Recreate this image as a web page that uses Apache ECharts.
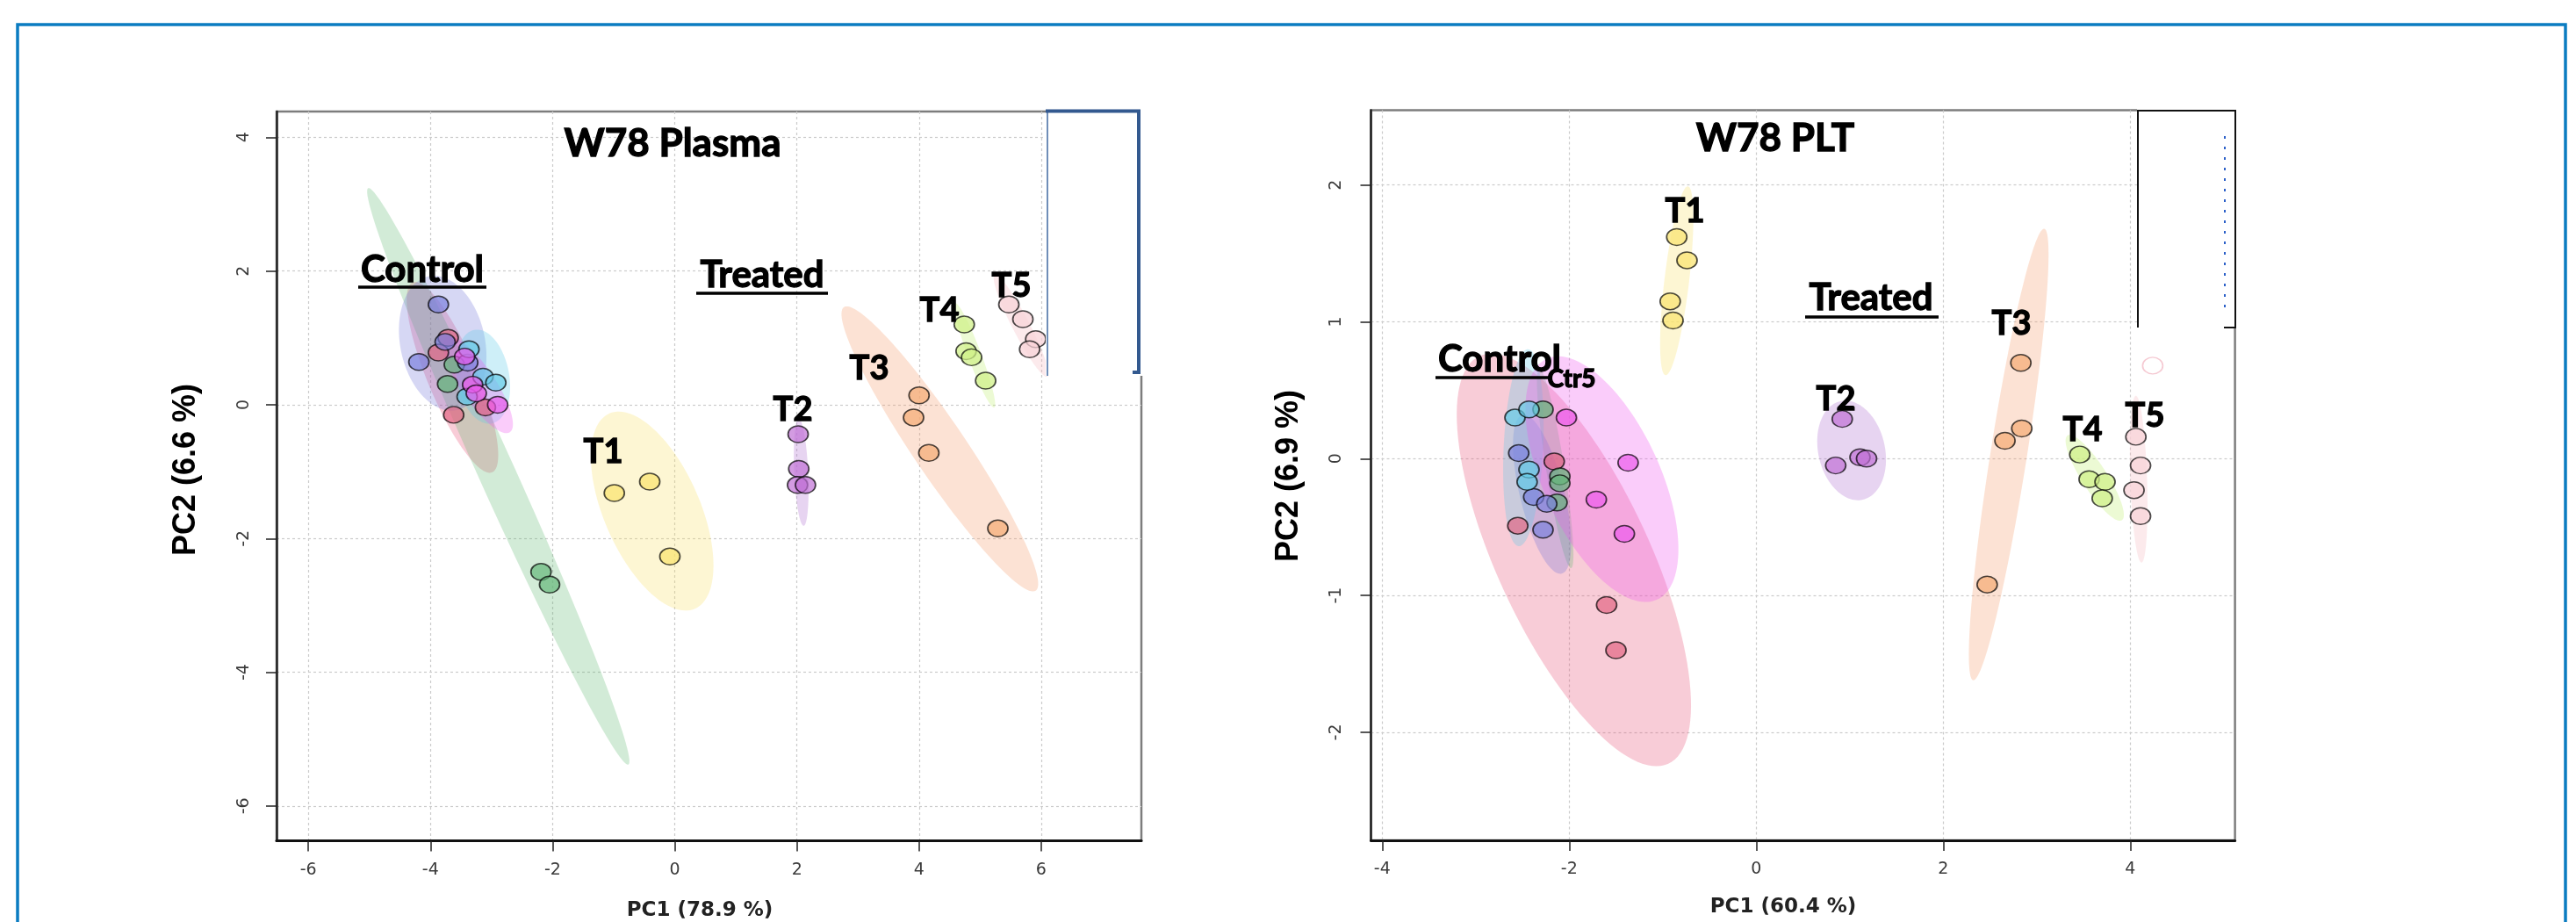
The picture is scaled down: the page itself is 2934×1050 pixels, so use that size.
<!DOCTYPE html>
<html><head><meta charset="utf-8">
<script src="https://cdn.jsdelivr.net/npm/echarts@6/dist/echarts.min.js"></script>
<style>html,body{margin:0;padding:0;background:#fff;}#c{width:2934px;height:1050px;}</style>
</head><body><div id="c"></div>
<script>
// ---------- group order ----------
const groupNames = ['CtrRed','CtrGreen','CtrBlue','CtrCyan','Ctr5','T1','T2','T3','T4','T5'];

// ---------- W78 Plasma scores [PC1, PC2] ----------
const plasmaCtrRed     = [[-3.71,1.00],[-3.87,0.78],[-3.10,-0.04],[-3.62,-0.15]];
const plasmaCtrGreen   = [[-3.61,0.60],[-3.72,0.31],[-2.19,-2.50],[-2.05,-2.69]];
const plasmaCtrBlue    = [[-3.87,1.50],[-3.76,0.94],[-4.19,0.64],[-3.39,0.63]];
const plasmaCtrCyan    = [[-3.37,0.83],[-3.14,0.42],[-2.93,0.33],[-3.40,0.12]];
const plasmaCtrMagenta = [[-3.44,0.72],[-3.31,0.30],[-3.25,0.17],[-2.90,0.00]];
const plasmaT1 = [[-0.99,-1.32],[-0.41,-1.15],[-0.08,-2.27]];
const plasmaT2 = [[2.02,-0.44],[2.03,-0.96],[2.01,-1.20],[2.14,-1.20]];
const plasmaT3 = [[4.00,0.14],[3.91,-0.19],[4.16,-0.72],[5.29,-1.85]];
const plasmaT4 = [[4.74,1.20],[4.77,0.80],[4.86,0.71],[5.09,0.36]];
const plasmaT5 = [[5.47,1.50],[5.70,1.28],[5.91,0.98],[5.81,0.83]];

// confidence ellipses: [centerPC1, centerPC2, majorTipPC1, majorTipPC2, minor/major ratio]
const plasmaEllipses = [
  [-3.64,0.41,-4.29,1.83,0.24],
  [-2.89,-1.07,-5.02,3.24,0.058],
  [-3.80,0.92,-4.03,1.92,0.62],
  [-3.14,0.42,-3.28,1.12,0.55],
  [-3.22,0.30,-3.74,1.01,0.30],
  [-0.37,-1.59,-1.07,-0.13,0.45],
  [2.07,-1.01,2.03,-0.21,0.13],
  [4.34,-0.66,2.77,1.46,0.155],
  [4.91,0.74,4.59,1.52,0.12],
  [5.67,1.18,5.24,1.94,0.15]
];

// ---------- W78 PLT scores ----------
const pltCtrRed     = [[-2.16,-0.02],[-2.55,-0.49],[-1.60,-1.07],[-1.50,-1.40]];
const pltCtrGreen   = [[-2.28,0.36],[-2.10,-0.13],[-2.10,-0.18],[-2.13,-0.32]];
const pltCtrBlue    = [[-2.54,0.04],[-2.38,-0.28],[-2.24,-0.33],[-2.28,-0.52]];
const pltCtrCyan    = [[-2.58,0.30],[-2.43,0.36],[-2.43,-0.08],[-2.45,-0.17]];
const pltCtrMagenta = [[-2.03,0.30],[-1.37,-0.03],[-1.71,-0.30],[-1.41,-0.55]];
const pltT1 = [[-0.85,1.62],[-0.74,1.45],[-0.92,1.15],[-0.89,1.01]];
const pltT2 = [[0.92,0.29],[0.85,-0.05],[1.11,0.01],[1.18,0.00]];
const pltT3 = [[2.83,0.70],[2.84,0.22],[2.66,0.13],[2.47,-0.92]];
const pltT4 = [[3.46,0.03],[3.56,-0.15],[3.73,-0.17],[3.70,-0.29]];
const pltT5 = [[4.06,0.16],[4.11,-0.05],[4.04,-0.23],[4.11,-0.42]];
const pltGhost = [[4.24,0.68]];

const pltEllipses = [
  [-1.95,-0.74,-2.96,0.75,0.34],
  [-2.15,-0.07,-2.32,0.66,0.09],
  [-2.29,-0.26,-2.50,0.32,0.27],
  [-2.49,0.08,-2.44,0.80,0.20],
  [-1.65,-0.15,-2.24,0.73,0.44],
  [-0.85,1.30,-0.73,1.99,0.13],
  [1.02,0.06,0.90,0.42,0.66],
  [2.70,0.03,3.08,1.68,0.08],
  [3.62,-0.14,3.33,0.17,0.25],
  [4.09,-0.15,4.06,0.46,0.10]
];

// ---------- axis ticks ----------
const plasmaXTicks = [-6,-4,-2,0,2,4,6];
const plasmaYTicks = [-6,-4,-2,0,2,4];
const pltXTicks = [-4,-2,0,2,4];
const pltYTicks = [-2,-1,0,1,2];

// ---------- styles ----------
const pointColors = ['rgba(226,100,130,0.85)','rgba(98,182,120,0.85)','rgba(122,128,222,0.85)',
  'rgba(100,204,232,0.85)','rgba(236,88,236,0.85)','rgba(250,228,112,0.92)','rgba(192,112,214,0.88)',
  'rgba(246,172,120,0.92)','rgba(208,240,136,0.92)','rgba(248,210,216,0.92)'];
const ellipseColors = ['rgba(232,87,122,0.3)','rgba(92,184,112,0.28)','rgba(106,112,216,0.28)',
  'rgba(92,203,232,0.3)','rgba(238,85,238,0.3)','rgba(248,224,96,0.28)','rgba(176,112,208,0.3)',
  'rgba(246,160,112,0.3)','rgba(192,240,112,0.3)','rgba(244,184,192,0.3)'];

const plasmaGroups = [plasmaCtrRed,plasmaCtrGreen,plasmaCtrBlue,plasmaCtrCyan,plasmaCtrMagenta,plasmaT1,plasmaT2,plasmaT3,plasmaT4,plasmaT5];
const pltGroups = [pltCtrRed,pltCtrGreen,pltCtrBlue,pltCtrCyan,pltCtrMagenta,pltT1,pltT2,pltT3,pltT4,pltT5];

function ellipseSeries(idx, list){
  return {
    type:'custom', xAxisIndex:idx, yAxisIndex:idx, z:1, silent:true, clip:true,
    data:list,
    renderItem:function(params, api){
      const c = api.coord([api.value(0), api.value(1)]);
      const t = api.coord([api.value(2), api.value(3)]);
      const r = api.value(4);
      const ax = t[0]-c[0], ay = t[1]-c[1];
      const bx = -ay*r, by = ax*r;
      const pts = [];
      for (let i=0;i<120;i++){
        const a = i/120*2*Math.PI;
        pts.push([c[0]+ax*Math.cos(a)+bx*Math.sin(a), c[1]+ay*Math.cos(a)+by*Math.sin(a)]);
      }
      return {type:'polygon', shape:{points:pts}, style:{fill:ellipseColors[params.dataIndex]}};
    }
  };
}
function scatterSeries(idx, data, gi){
  return {
    type:'scatter', name:groupNames[gi], xAxisIndex:idx, yAxisIndex:idx, z:3, silent:true,
    symbol:'circle', symbolSize:[23,19], data:data,
    itemStyle:{color:pointColors[gi], borderColor:'rgba(0,0,0,0.88)', borderWidth:1.6}
  };
}

const tickFont = {fontFamily:'DejaVu Sans', fontSize:19, color:'#3a3a3a'};
function xAxis(idx, min, max, step, ticks){
  return {
    type:'value', gridIndex:idx, min:min, max:max, minInterval:step, maxInterval:step, splitNumber:7,
    axisLine:{show:true, onZero:false, lineStyle:{color:'#111', width:3}},
    axisTick:{show:true, length:12, customValues:ticks, lineStyle:{color:'#222', width:1.5}},
    axisLabel:Object.assign({customValues:ticks, margin:24}, tickFont),
    splitLine:{show:true, lineStyle:{color:'#cbcbcb', width:1.2, type:[3,3]}}
  };
}
function yAxis(idx, min, max, step, ticks, margin){
  return {
    type:'value', gridIndex:idx, min:min, max:max, minInterval:step, maxInterval:step, splitNumber:6,
    axisLine:{show:true, onZero:false, lineStyle:{color:'#222', width:2.5}},
    axisTick:{show:true, length:12, customValues:ticks, lineStyle:{color:'#222', width:1.5}},
    axisLabel:Object.assign({customValues:ticks, margin:margin, rotate:90}, tickFont),
    splitLine:{show:true, lineStyle:{color:'#cbcbcb', width:1.2, type:[3,3]}}
  };
}

function label(text, x, y, size, extra){
  return Object.assign({type:'text', x:x, y:y+2, z:110, silent:true,
    style:{text:text, fontFamily:'Lato', fontWeight:'bold', fontSize:size, fill:'#000', stroke:'#000', lineWidth:1.3,
      align:'center', verticalAlign:'middle'}}, extra||{});
}
function uline(x1, x2, y){
  return {type:'line', z:110, silent:true, shape:{x1:x1, y1:y, x2:x2, y2:y}, style:{stroke:'#000', lineWidth:3.5}};
}

const series = [ellipseSeries(0, plasmaEllipses), ellipseSeries(1, pltEllipses)];
plasmaGroups.forEach((g,i)=>series.push(scatterSeries(0,g,i)));
pltGroups.forEach((g,i)=>series.push(scatterSeries(1,g,i)));
series.push({type:'scatter', xAxisIndex:1, yAxisIndex:1, z:3, silent:true, symbol:'circle', symbolSize:[23,19],
  data:pltGhost, itemStyle:{color:'rgba(255,255,255,0.9)', borderColor:'rgba(240,170,185,0.8)', borderWidth:1.5}});

const graphic = [
  {type:'rect', z:100, silent:true, shape:{x:20, y:28, width:2902, height:1060}, style:{fill:'none', stroke:'#0b7cc1', lineWidth:3.5}},
  // legend remnants (plasma)
  {type:'rect', z:100, silent:true, shape:{x:1191, y:118, width:113, height:310}, style:{fill:'#fff'}},
  {type:'line', z:101, silent:true, shape:{x1:1193, y1:128, x2:1193, y2:428}, style:{stroke:'#4068a0', lineWidth:1.5}},
  {type:'polyline', z:101, silent:true, shape:{points:[[1191,126.5],[1297,126.5],[1297,424],[1290,424]]}, style:{stroke:'#33598f', lineWidth:4, fill:'none'}},
  // legend remnants (PLT)
  {type:'rect', z:100, silent:true, shape:{x:2434, y:118, width:116, height:255}, style:{fill:'#fff'}},
  {type:'polyline', z:101, silent:true, shape:{points:[[2435,373],[2435,126],[2546,126],[2546,373],[2533,373]]}, style:{stroke:'#111', lineWidth:2, fill:'none'}},
  {type:'line', z:101, silent:true, shape:{x1:2534, y1:155, x2:2534, y2:355}, style:{stroke:'#2a5fc8', lineWidth:2, lineDash:[3,9]}},
  // titles & annotations (plasma)
  label('W78 Plasma', 766, 162, 44),
  label('Control', 481, 305, 42), uline(408, 554, 327),
  label('Treated', 868, 311, 42), uline(793, 943, 334),
  label('T1', 687, 513, 38), label('T2', 903, 465, 38), label('T3', 990, 418, 38),
  label('T4', 1070, 352, 38), label('T5', 1152, 324, 38),
  // titles & annotations (PLT)
  label('W78 PLT', 2022, 156, 44),
  label('T1', 1919, 239, 38),
  label('Treated', 2131, 337, 42), uline(2056, 2208, 361),
  label('Control', 1708, 407, 42), uline(1635, 1768, 430),
  label('Ctr5', 1790, 430, 28),
  label('T2', 2091, 453, 38), label('T3', 2291, 367, 38), label('T4', 2372, 488, 38), label('T5', 2443, 472, 38),
  // axis titles
  {type:'text', x:797, y:1037, z:110, silent:true, style:{text:'PC1 (78.9 %)', fontFamily:'DejaVu Sans', fontWeight:'bold', fontSize:23, fill:'#222', align:'center', verticalAlign:'middle'}},
  {type:'text', x:2031, y:1033, z:110, silent:true, style:{text:'PC1 (60.4 %)', fontFamily:'DejaVu Sans', fontWeight:'bold', fontSize:23, fill:'#222', align:'center', verticalAlign:'middle'}},
  {type:'text', x:212, y:535, rotation:Math.PI/2, z:110, silent:true, style:{text:'PC2 (6.6 %)', fontFamily:'Liberation Sans', fontWeight:'bold', fontSize:36, fill:'#000', align:'center', verticalAlign:'middle'}},
  {type:'text', x:1468, y:542, rotation:Math.PI/2, z:110, silent:true, style:{text:'PC2 (6.9 %)', fontFamily:'Liberation Sans', fontWeight:'bold', fontSize:36, fill:'#000', align:'center', verticalAlign:'middle'}}
];

const chart = echarts.init(document.getElementById('c'), null, {renderer:'canvas'});
chart.setOption({
  animation:false,
  backgroundColor:'#fff',
  grid:[
    {left:315, top:127, width:985, height:830.5, show:true, borderColor:'#7d7d7d', borderWidth:2.5, backgroundColor:'transparent'},
    {left:1561.5, top:125.5, width:984.1, height:831.5, show:true, borderColor:'#7d7d7d', borderWidth:2.5, backgroundColor:'transparent'}
  ],
  xAxis:[xAxis(0,-6.52,7.64,2,plasmaXTicks), xAxis(1,-4.12,5.12,2,pltXTicks)],
  yAxis:[yAxis(0,-6.52,4.385,2,plasmaYTicks,27), yAxis(1,-2.79,2.547,1,pltYTicks,30)],
  series:series,
  graphic:graphic
});
</script>
</body></html>
